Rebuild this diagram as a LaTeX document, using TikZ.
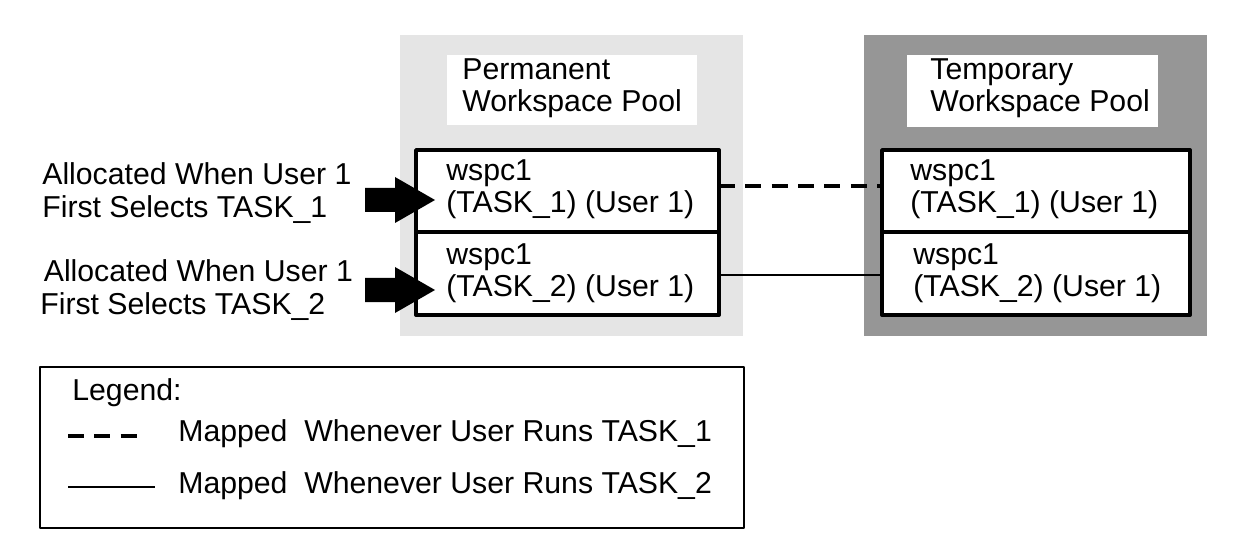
\documentclass[tikz,border=0pt]{standalone}
\usepackage{fontspec}
\setmainfont{Liberation Sans}
\usetikzlibrary{calc}
\tikzset{l/.style={font=\fontsize{17.2}{18.5}\selectfont, inner sep=0pt, align=left}}
\tikzset{ws/.style={draw, line width=2.2pt}}
\tikzset{blk/.style={fill=black, draw=none}}
\definecolor{lightpool}{gray}{0.898}
\definecolor{darkpool}{gray}{0.59}
\begin{document}
\begin{tikzpicture}[x=0.02cm, y=-0.02cm, line join=round]
  \useasboundingbox (0,0) rectangle (1234,547);
  % pools
  \fill[lightpool] (400,35) rectangle (743,336);
  \fill[darkpool] (864,35) rectangle (1207,336);
  \fill[white] (447,55) rectangle (697,125);
  \fill[white] (907,55) rectangle (1158,127);
  \node[l, anchor=west] (perm) at (462,88) {Permanent\\Workspace Pool};
  \node[l, anchor=west] (temp) at (930,88) {Temporary\\Workspace Pool};
  % workspaces
  \filldraw[ws, fill=white] (416,150) rectangle (719,232);
  \filldraw[ws, fill=white] (416,232) rectangle (719,315);
  \filldraw[ws, fill=white] (882,150) rectangle (1190,232);
  \filldraw[ws, fill=white] (882,232) rectangle (1190,315);
  \node[l, anchor=west] (p1) at (446,189) {wspc1\\(TASK\_1) (User 1)};
  \node[l, anchor=west] (p2) at (446,273) {wspc1\\(TASK\_2) (User 1)};
  \node[l, anchor=west] (t1) at (910,189) {wspc1\\(TASK\_1) (User 1)};
  \node[l, anchor=west] (t2) at (913,273) {wspc1\\(TASK\_2) (User 1)};
  \coordinate (d1) at (719,186); \coordinate (d2) at (882,186);
  \coordinate (s1) at (719,275); \coordinate (s2) at (882,275);
  \draw[line width=2.2pt, dash pattern=on 9pt off 6pt] (d1) -- (d2);
  \draw[line width=0.8pt] (s1) -- (s2);
  % block arrows
  \foreach \y in {200,290} {
    \fill[blk] (365,\y-12) -- (395,\y-12) -- (395,\y-23) -- (435,\y) -- (395,\y+23) -- (395,\y+12) -- (365,\y+12) -- cycle;
  }
  \node[l, anchor=west] (a1) at (42,193) {Allocated When User 1\\First Selects TASK\_1};
  \node[l, anchor=west] (a2) at (40,290) {\hspace{2pt}Allocated When User 1\\First Selects TASK\_2};
  % legend
  \draw[line width=0.8pt] (40,367) rectangle (744,528);
  \node[l, anchor=west] (leg) at (72,393) {Legend:};
  \coordinate (ld1) at (68,436); \coordinate (ld2) at (145,436);
  \coordinate (ls1) at (68,487); \coordinate (ls2) at (155,487);
  \draw[line width=2.2pt, dash pattern=on 9pt off 6pt] (ld1) -- (ld2);
  \draw[line width=0.8pt] (ls1) -- (ls2);
  \node[l, anchor=west] (m1) at (178,434) {Mapped\ \ Whenever User Runs TASK\_1};
  \node[l, anchor=west] (m2) at (178,486) {Mapped\ \ Whenever User Runs TASK\_2};
\end{tikzpicture}
\end{document}
